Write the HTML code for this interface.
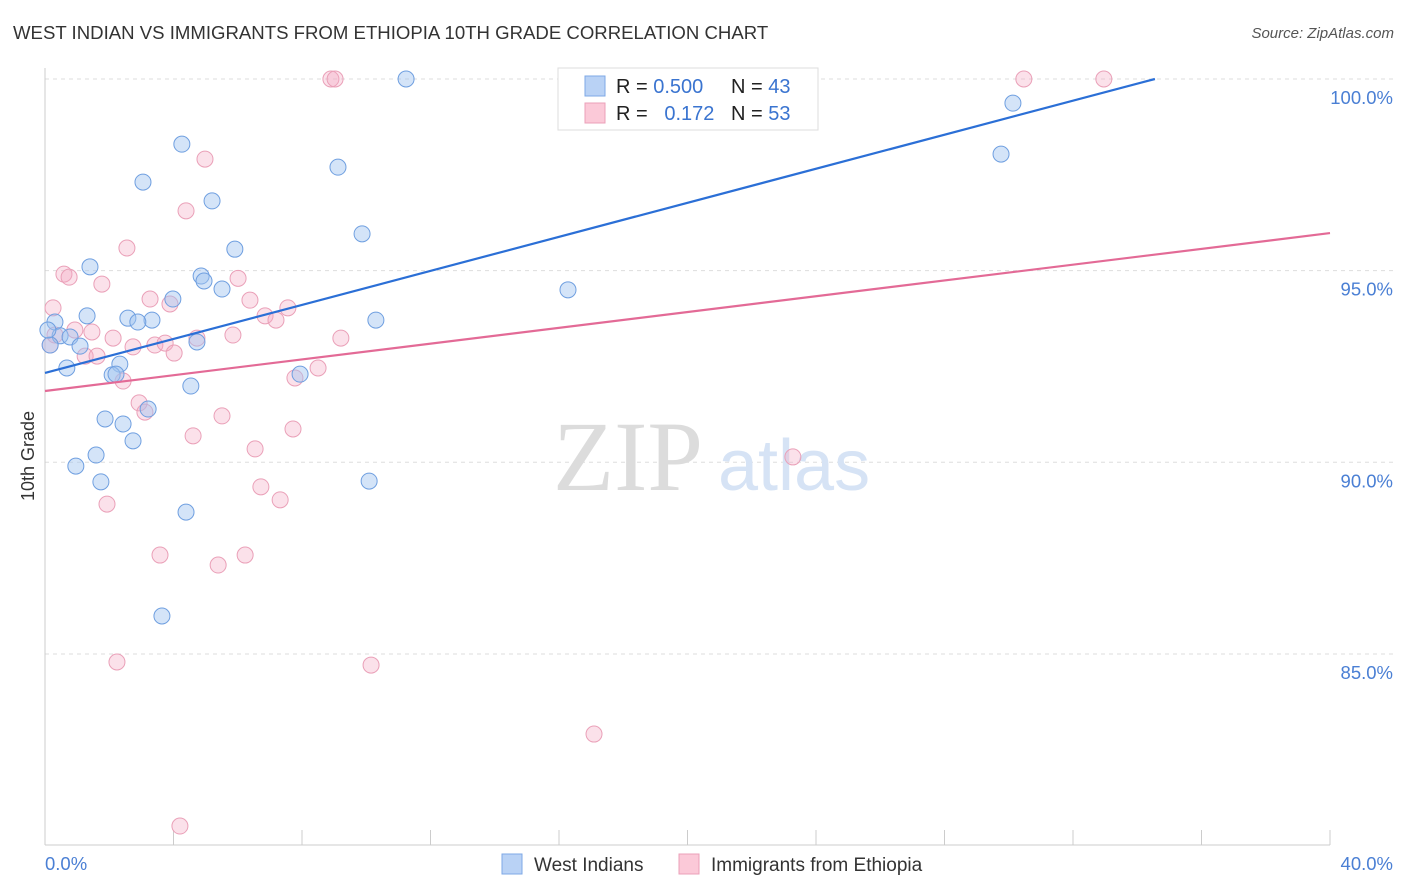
<!DOCTYPE html>
<html><head><meta charset="utf-8">
<style>
body{margin:0;background:#fff;font-family:"Liberation Sans",sans-serif;}
#wrap{position:relative;width:1406px;height:892px;overflow:hidden;}
.t{position:absolute;white-space:nowrap;}
</style></head>
<body><div id="wrap">
<div class="t" style="left:13px;top:22px;font-size:18.6px;color:#333;">WEST INDIAN VS IMMIGRANTS FROM ETHIOPIA 10TH GRADE CORRELATION CHART</div>
<div class="t" style="right:12px;top:25px;font-size:15px;color:#555;font-style:italic;">Source: ZipAtlas.com</div>
<svg id="svg" width="1406" height="892" style="position:absolute;left:0;top:0"></svg>
</div>
<script>
const xTicks=[0,40];
const yTicks=[85,90,95,100];
const blueX=[11.24,30.13,4.26,29.76,3.05,9.12,5.20,9.87,5.91,1.40,4.86,4.95,5.51,16.28,3.98,1.31,2.58,3.33,2.89,10.30,0.31,0.47,0.78,4.73,1.09,0.68,2.33,2.09,2.21,7.94,4.54,3.21,1.87,2.43,2.74,1.59,0.96,1.74,10.09,4.39,3.64,0.16,0.09];
const blueY=[100,99.37,98.30,98.04,97.31,97.70,96.82,95.96,95.56,95.10,94.86,94.73,94.52,94.50,94.26,93.82,93.76,93.71,93.66,93.71,93.66,93.30,93.27,93.14,93.03,92.46,92.56,92.28,92.30,92.30,91.99,91.39,91.13,91.00,90.56,90.19,89.90,89.49,89.51,88.70,85.99,93.06,93.45];
const pinkX=[8.90,9.03,30.47,32.96,4.98,4.39,2.55,0.59,0.75,6.01,1.77,3.27,3.89,6.38,0.25,7.56,6.85,7.19,0.93,1.46,2.12,4.73,5.85,9.21,3.42,3.74,2.74,4.02,1.25,1.62,2.43,7.78,8.50,2.93,3.11,5.51,4.61,7.72,6.54,23.28,6.72,7.32,1.93,3.58,6.23,5.39,2.24,10.15,17.09,4.20,0.16,0.31];
const pinkY=[100,100,100,100,97.91,96.56,95.59,94.91,94.83,94.80,94.65,94.26,94.13,94.23,94.03,94.03,93.82,93.71,93.45,93.40,93.24,93.24,93.32,93.24,93.06,93.11,93.01,92.85,92.77,92.77,92.12,92.20,92.46,91.55,91.31,91.21,90.69,90.87,90.35,90.14,89.36,89.02,88.91,87.58,87.58,87.32,84.79,84.71,82.91,80.51,93.06,93.32];
const blueLine=[92.33,0.222];
const pinkLine=[91.86,0.103];
const NS="http://www.w3.org/2000/svg";
const svg=document.getElementById('svg');
const X0=45,X1=1330,Y100=79,PPU=38.33;
const sx=v=>X0+(v-xTicks[0])/(xTicks[1]-xTicks[0])*(X1-X0);
const sy=v=>Y100+(100-v)*PPU;
function mk(tag,at){const e=document.createElementNS(NS,tag);for(const k in at)e.setAttribute(k,at[k]);svg.appendChild(e);return e;}
yTicks.forEach(v=>{
 const g=mk('line',{x1:X0,x2:1395,y1:sy(v),y2:sy(v),stroke:'#ddd','stroke-dasharray':'4,4'});
 
 
 const t=mk('text',{x:1393,y:sy(v)+25,'text-anchor':'end','font-size':'18.5',fill:'#4a7fd4','font-family':'Liberation Sans'});
 t.textContent=v.toFixed(1)+'%';
 
 
});
let a=mk('line',{x1:X0,x2:X0,y1:68,y2:845,stroke:'#ccc'});


a=mk('line',{x1:X0,x2:1330,y1:845,y2:845,stroke:'#ccc'});


for(let i=0;i<=10;i++){const x=X0+i*(X1-X0)/10;const tk=mk('line',{x1:x,x2:x,y1:830,y2:845,stroke:'#ccc'});
 
 }
xTicks.forEach((v,i)=>{const t=mk('text',{x:i?1393:45,y:870,'text-anchor':i?'end':'start','font-size':'18.5',fill:'#4a7fd4','font-family':'Liberation Sans'});
 t.textContent=v.toFixed(1)+'%';
 
 });
let yl=mk('text',{x:0,y:0,transform:'translate(34,456) rotate(-90)','text-anchor':'middle','font-size':'18',fill:'#333','font-family':'Liberation Sans'});
yl.textContent='10th Grade';


let w=mk('text',{x:553,y:490,'font-size':'100','fill':'#dcdcdc','font-family':'Liberation Serif'});w.textContent='ZIP';


w=mk('text',{x:718,y:490,'font-size':'72',fill:'#d6e3f5','font-family':'Liberation Sans'});w.textContent='atlas';


function pts(xs,ys,fill,stroke,name){xs.forEach((x,i)=>{const c=mk('circle',{cx:sx(x),cy:sy(ys[i]),r:8,fill:fill,stroke:stroke,'stroke-width':1});
 
 });}
pts(pinkX,pinkY,'rgba(244,170,195,0.35)','#eaa0b8','ethiopia-point');
pts(blueX,blueY,'rgba(160,195,240,0.45)','#6f9fe0','west-indian-point');
function line(p,col,name){let xe=40,ye=p[0]+p[1]*40;if(ye>100){xe=(100-p[0])/p[1];ye=100;}
 const l=mk('line',{x1:sx(0),y1:sy(p[0]),x2:sx(xe),y2:sy(ye),stroke:col,'stroke-width':2.2});
 
 }
line(pinkLine,'#e36a96','ethiopia-trend-line');
line(blueLine,'#2b6fd6','west-indian-trend-line');
let r=mk('rect',{x:558,y:68,width:260,height:62,fill:'#fff',stroke:'#ddd'});


[[0,'#b9d2f5','#7ea8e6','0.500','43'],[1,'#fbc9d8','#eba0b9','  0.172','53']].forEach(d=>{
 const y=76+d[0]*27;
 const s=mk('rect',{x:585,y:y,width:20,height:20,fill:d[1],stroke:d[2]});
 
 
 const t=mk('text',{x:616,y:y+17,'font-size':'20','font-family':'Liberation Sans',fill:'#222','xml:space':'preserve'});
 t.innerHTML='R = <tspan fill="#3a74d0">'+(d[0]?'&#160;&#160;0.172':'0.500')+'</tspan><tspan x="731">N = </tspan><tspan fill="#3a74d0">'+d[4]+'</tspan>';
 
 
});
[[502,'#b9d2f5','#7ea8e6','West Indians'],[679,'#fbc9d8','#eba0b9','Immigrants from Ethiopia']].forEach(d=>{
 const s=mk('rect',{x:d[0],y:854,width:20,height:20,fill:d[1],stroke:d[2]});
 
 
 const t=mk('text',{x:d[0]+32,y:871,'font-size':'19',fill:'#333','font-family':'Liberation Sans'});
 t.textContent=d[3];
 
 
});
</script></body></html>
